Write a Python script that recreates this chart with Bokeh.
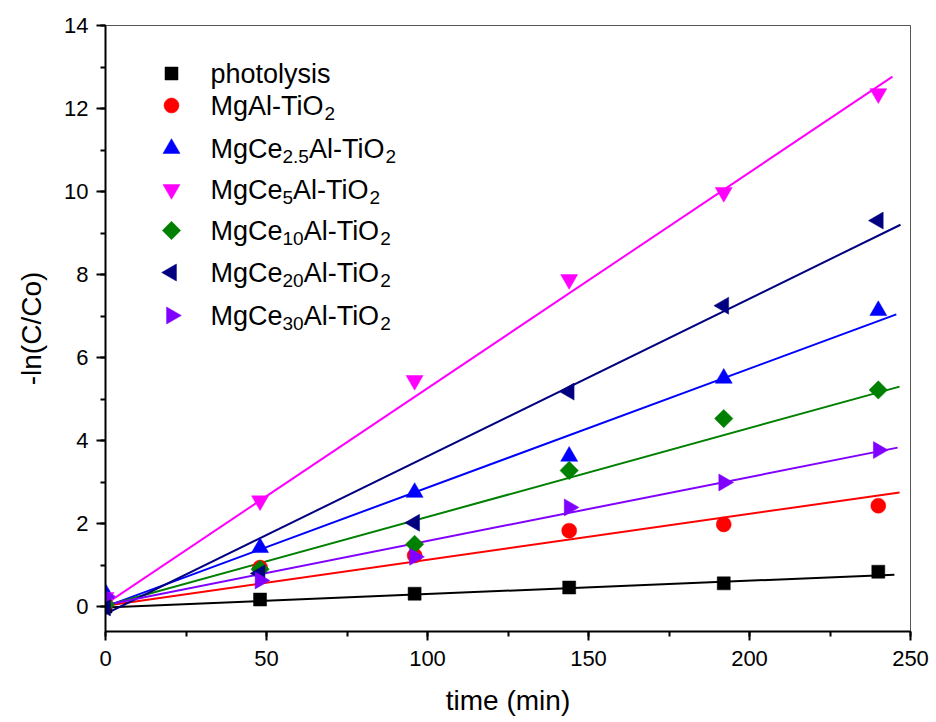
import numpy as np
from bokeh.plotting import figure
from bokeh.models import Range1d, SingleIntervalTicker, ColumnDataSource
from bokeh.core.properties import value
from bokeh.embed import file_html
from bokeh.resources import INLINE

# ---------------- data ----------------
time_min = [0, 48, 96, 144, 192, 240]
photolysis = [0.0, 0.17, 0.31, 0.46, 0.56, 0.84]
mgal = [0.05, 0.94, 1.23, 1.83, 1.98, 2.43]
ce2_5 = [0.32, 1.42, 2.75, 3.62, 5.50, 7.13]
ce5 = [0.22, 2.55, 5.45, 7.88, 9.98, 12.36]
ce10 = [0.05, 0.90, 1.50, 3.28, 4.53, 5.22]
ce20 = [-0.02, 0.80, 2.02, 5.18, 7.25, 9.30]
ce30 = [0.25, 0.63, 1.20, 2.39, 2.99, 3.77]

# linear-fit lines (start/end)
fit_t_start = [0, 0, 0, 0, 0, -2, 0]
fit_t_end = [245, 246.6, 245.6, 244.4, 246.6, 246.9, 246]
fit_y_start = [-0.02, 0.02, 0.0, 0.06, 0.02, -0.25, 0.04]
fit_y_end = [0.77, 2.75, 7.04, 12.77, 5.30, 9.20, 3.83]

series_names = ["photolysis", "MgAl-TiO2", "MgCe2.5Al-TiO2", "MgCe5Al-TiO2",
                "MgCe10Al-TiO2", "MgCe20Al-TiO2", "MgCe30Al-TiO2"]
# legend labels as (text, is_subscript) pieces
legend_pieces = [
    [("photolysis", False)],
    [("MgAl-TiO", False), ("2", True)],
    [("MgCe", False), ("2.5", True), ("Al-TiO", False), ("2", True)],
    [("MgCe", False), ("5", True), ("Al-TiO", False), ("2", True)],
    [("MgCe", False), ("10", True), ("Al-TiO", False), ("2", True)],
    [("MgCe", False), ("20", True), ("Al-TiO", False), ("2", True)],
    [("MgCe", False), ("30", True), ("Al-TiO", False), ("2", True)],
]
values = [photolysis, mgal, ce2_5, ce5, ce10, ce20, ce30]

colors = ["#000000", "#FF0000", "#0000FF", "#FF00FF", "#008000", "#000080", "#8000FF"]
markers = ["square", "circle", "triangle", "inverted_triangle", "square", "triangle", "triangle"]
angles = [0, 0, 0, 0, np.pi / 4, np.pi / 2, -np.pi / 2]
sizes = [13, 15, 17, 17, 13, 17, 17]

FONT = "Liberation Sans"

W, H = 936, 722
p = figure(width=W, height=H, output_backend="svg", toolbar_location=None,
           x_range=Range1d(0, 250), y_range=Range1d(-0.6, 14),
           min_border_left=105, min_border_right=26, min_border_top=25, min_border_bottom=91)
p.grid.visible = False
p.background_fill_color = "white"
p.border_fill_color = "white"
p.outline_line_color = "#555555"
p.outline_line_width = 1

p.xaxis.ticker = SingleIntervalTicker(interval=50, num_minor_ticks=2)
p.yaxis.ticker = SingleIntervalTicker(interval=2, num_minor_ticks=2)
for ax in (p.xaxis[0], p.yaxis[0]):
    ax.axis_line_width = 2
    ax.axis_line_color = "black"
    ax.major_tick_line_width = 2
    ax.minor_tick_line_width = 2
    ax.major_tick_out = 9
    ax.major_tick_in = 0
    ax.minor_tick_out = 5
    ax.minor_tick_in = 0
    ax.major_label_text_font = FONT
    ax.major_label_text_font_size = "22px"
    ax.major_label_text_color = "black"
    ax.axis_label_text_font = FONT
    ax.axis_label_text_font_style = "normal"
    ax.axis_label_text_font_size = "28px"
    ax.axis_label_text_color = "black"
p.xaxis.axis_label = "time (min)"
p.yaxis.axis_label = "-ln(C/Co)"
p.xaxis.major_label_standoff = 10
p.yaxis.major_label_standoff = 8
p.xaxis.axis_label_standoff = 16
p.yaxis.axis_label_standoff = 14

# fit lines
for i in range(7):
    p.line([fit_t_start[i], fit_t_end[i]], [fit_y_start[i], fit_y_end[i]],
           line_color=colors[i], line_width=2)

# data points
for i in range(7):
    src = ColumnDataSource(dict(x=time_min, y=values[i]))
    p.scatter("x", "y", source=src, marker=markers[i], size=sizes[i], angle=angles[i],
              fill_color=colors[i], line_color=colors[i], line_width=0.5)

# manual legend (screen-pixel layout converted to data coords)
def sx(px):
    return (px - 105) / 805 * 250

def sy(py):
    return 14 - (py - 25) / 606 * 14.6

row_y = [73, 105, 148, 189, 230, 272, 315]
marker_px = 171
text_px = 210
main_fs = 27
sub_fs = 19
cw = {"M": .833, "g": .556, "A": .667, "l": .222, "-": .333, "T": .611, "i": .222,
      "O": .778, "C": .722, "e": .556, ".": .278, "p": .556, "h": .556, "o": .556,
      "t": .278, "y": .5, "s": .5}
for d in "0123456789":
    cw[d] = .556

for i in range(7):
    p.scatter([sx(marker_px)], [sy(row_y[i])], marker=markers[i], size=sizes[i], angle=angles[i],
              fill_color=colors[i], line_color=colors[i], line_width=0.5)
    xoff = 0.0
    for txt, sub in legend_pieces[i]:
        fs = sub_fs if sub else main_fs
        p.text([sx(text_px)], [sy(row_y[i])], text=[txt], x_offset=xoff,
               y_offset=8 if sub else 0,
               text_font=value(FONT), text_font_size=f"{fs}px", text_color="black",
               text_baseline="alphabetic", text_align="left")
        xoff += sum(cw.get(c, .556) for c in txt) * fs

open("out.html", "w").write(file_html(p, INLINE))
